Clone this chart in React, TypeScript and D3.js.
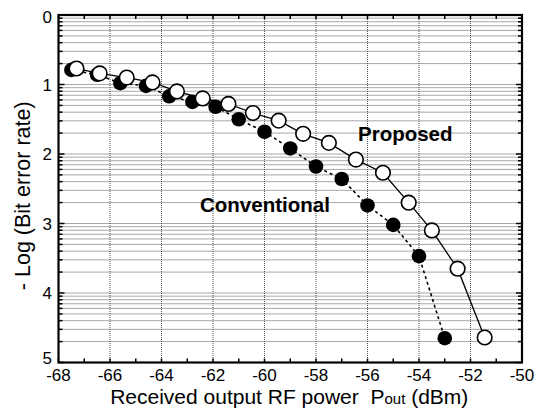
import React, { useEffect, useRef } from "react";
import * as d3 from "d3";

// readings from the plot: received power (dBm) vs -log(BER)
const proposedPower = [-67.3, -66.4, -65.35, -64.35, -63.4, -62.4, -61.4, -60.45, -59.45, -58.5, -57.5, -56.45, -55.4, -54.4, -53.5, -52.5, -51.45];
const proposedLogBer = [0.77, 0.84, 0.9, 0.97, 1.1, 1.2, 1.28, 1.41, 1.52, 1.71, 1.84, 2.08, 2.27, 2.7, 3.1, 3.65, 4.64];

const conventionalPower = [-67.5, -66.5, -65.6, -64.6, -63.7, -62.8, -61.9, -61.0, -60.0, -59.0, -58.0, -57.0, -56.0, -55.0, -54.0, -53.0];
const conventionalLogBer = [0.79, 0.86, 0.98, 1.02, 1.17, 1.25, 1.32, 1.5, 1.68, 1.92, 2.18, 2.36, 2.74, 3.02, 3.47, 4.65];

const xTickLabels = [-68, -66, -64, -62, -60, -58, -56, -54, -52, -50];
const yTickLabels = [0, 1, 2, 3, 4, 5];

const FONT = "Arial, 'Liberation Sans', Helvetica, sans-serif";

export default function App() {
    const ref = useRef<SVGSVGElement>(null);

    useEffect(() => {
        document.body.style.margin = "0";
        const svg = d3.select(ref.current);
        svg.selectAll("*").remove();

        const left = 58.5, right = 522, top = 15, bottom = 362.5;

        const x = d3.scaleLinear().domain([-68, -50]).range([left, right]);
        const y = d3.scaleLinear().domain([0, 5]).range([top, bottom]);

        // log-spaced minor lines inside each decade
        const minor: number[] = [];
        d3.range(0, 5).forEach(n => {
            d3.range(2, 10).forEach(k => minor.push(n + 1 - Math.log10(k)));
        });
        const allY = minor.concat(yTickLabels);

        const grid = svg.append("g");
        grid.selectAll(".hgrid")
            .data(allY.filter(v => v > 0 && v < 5))
            .enter()
            .append("line")
            .attr("x1", left).attr("x2", right)
            .attr("y1", d => y(d)).attr("y2", d => y(d))
            .attr("stroke", "#505050")
            .attr("stroke-width", 1)
            .attr("stroke-dasharray", "1,1");

        grid.selectAll(".vgrid")
            .data(xTickLabels.filter(v => v > -68 && v < -50))
            .enter()
            .append("line")
            .attr("x1", d => x(d)).attr("x2", d => x(d))
            .attr("y1", top).attr("y2", bottom)
            .attr("stroke", "#505050")
            .attr("stroke-width", 1)
            .attr("stroke-dasharray", "1,1");

        // ticks (inward) on all four sides
        const ticks = svg.append("g").attr("stroke", "#000").attr("stroke-width", 1.5);
        allY.forEach(v => {
            const len = Number.isInteger(v) ? 6 : 4;
            ticks.append("line").attr("x1", left).attr("x2", left + len).attr("y1", y(v)).attr("y2", y(v));
            ticks.append("line").attr("x1", right).attr("x2", right - len).attr("y1", y(v)).attr("y2", y(v));
        });
        d3.range(-68, -49).forEach(v => {
            ticks.append("line").attr("x1", x(v)).attr("x2", x(v)).attr("y1", bottom).attr("y2", bottom - 4);
            ticks.append("line").attr("x1", x(v)).attr("x2", x(v)).attr("y1", top).attr("y2", top + 4);
        });

        // frame
        svg.append("rect")
            .attr("x", left).attr("y", top)
            .attr("width", right - left).attr("height", bottom - top)
            .attr("fill", "none")
            .attr("stroke", "#000")
            .attr("stroke-width", 2.2);

        // tick labels
        svg.append("g").selectAll("text")
            .data(xTickLabels)
            .enter()
            .append("text")
            .attr("x", d => x(d))
            .attr("y", 381)
            .attr("text-anchor", "middle")
            .style("font-family", FONT)
            .style("font-size", "17px")
            .text(d => d);

        svg.append("g").selectAll("text")
            .data(yTickLabels)
            .enter()
            .append("text")
            .attr("x", 52)
            // keep the end labels inside the frame height, as in the original
            .attr("y", d => Math.min(Math.max(y(d) + 6, top + 8), bottom + 1))
            .attr("text-anchor", "end")
            .style("font-family", FONT)
            .style("font-size", "17px")
            .text(d => d);

        // series
        const proposed = proposedPower.map((p, i) => [p, proposedLogBer[i]] as [number, number]);
        const conventional = conventionalPower.map((p, i) => [p, conventionalLogBer[i]] as [number, number]);

        const line = d3.line<[number, number]>()
            .x(d => x(d[0]))
            .y(d => y(d[1]));

        svg.append("path")
            .attr("d", line(conventional))
            .attr("fill", "none")
            .attr("stroke", "#000")
            .attr("stroke-width", 1.6)
            .attr("stroke-dasharray", "3,3");

        svg.append("path")
            .attr("d", line(proposed))
            .attr("fill", "none")
            .attr("stroke", "#000")
            .attr("stroke-width", 1.3);

        svg.append("g").selectAll("circle")
            .data(conventional)
            .enter()
            .append("circle")
            .attr("cx", d => x(d[0]))
            .attr("cy", d => y(d[1]))
            .attr("r", 7.3)
            .attr("fill", "#000");

        svg.append("g").selectAll("circle")
            .data(proposed)
            .enter()
            .append("circle")
            .attr("cx", d => x(d[0]))
            .attr("cy", d => y(d[1]))
            .attr("r", 7.3)
            .attr("fill", "#fff")
            .attr("stroke", "#000")
            .attr("stroke-width", 1.6);

        // series labels
        svg.append("text")
            .attr("x", 358).attr("y", 141)
            .style("font-family", FONT)
            .style("font-size", "20.5px")
            .style("font-weight", "bold")
            .text("Proposed");

        svg.append("text")
            .attr("x", 200).attr("y", 212)
            .style("font-family", FONT)
            .style("font-size", "20.5px")
            .style("font-weight", "bold")
            .text("Conventional");

        // axis titles
        const xt = svg.append("text")
            .attr("x", (left + right) / 2 - 1)
            .attr("y", 404)
            .attr("text-anchor", "middle")
            .style("font-family", FONT)
            .style("font-size", "21px");
        xt.append("tspan").text("Received output RF power\u00a0\u00a0P");
        xt.append("tspan").style("font-size", "15px").text("out");
        xt.append("tspan").text(" (dBm)");

        svg.append("text")
            .attr("transform", "translate(30," + ((top + bottom) / 2 + 7) + ") rotate(-90)")
            .attr("text-anchor", "middle")
            .style("font-family", FONT)
            .style("font-size", "21.5px")
            .text("- Log (Bit error rate)");
    }, []);

    return (
        <svg ref={ref} width={536} height={410}
             style={{ position: "absolute", left: 0, top: 0, background: "#fff" }} />
    );
}
